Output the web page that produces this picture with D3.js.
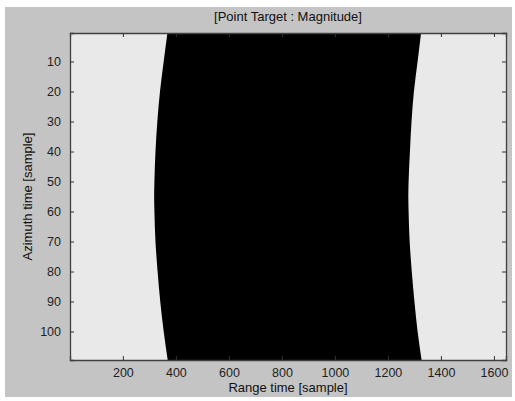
<!DOCTYPE html>
<html>
<head>
<meta charset="utf-8">
<script src="https://cdn.jsdelivr.net/npm/d3@7"></script>
<style>
	body { margin: 0; background: #ffffff; }
	#graphicContainer { width: 515px; height: 401px; }
	text { font-family: Arial, "Liberation Sans", sans-serif; }
</style>
</head>
<body>
<div id="graphicContainer"></div>
<script>

// azimuth rows sampled, and range sample where the black band starts / ends
var rows = [1, 10, 20, 30, 40, 50, 55, 60, 70, 80, 90, 100, 109]
var leftEdge = [368, 354, 340, 330, 323, 319, 318, 319, 323, 331, 341, 354, 369]
var rightEdge = [1325, 1312, 1298, 1289, 1283, 1278, 1277, 1278, 1282, 1290, 1300, 1312, 1327]

var xTicks = [200, 400, 600, 800, 1000, 1200, 1400, 1600]
var yTicks = [10, 20, 30, 40, 50, 60, 70, 80, 90, 100]

var titleText = "[Point Target : Magnitude]"
var xLabel = "Range time [sample]"
var yLabel = "Azimuth time [sample]"

function init() {

	var width = 515
	var height = 401
	var margin = {top: 33, right: 9, bottom: 41, left: 70}

	var svg = d3.select("#graphicContainer").append("svg")
				.attr("width", width)
				.attr("height", height)

	// figure background
	svg.append("rect")
		.attr("x", 5).attr("y", 7)
		.attr("width", 507).attr("height", 390)
		.attr("fill", "#c4c4c4")

	var x = d3.scaleLinear()
		.domain([0.5, 1645.5])
		.range([margin.left, width - margin.right])

	var y = d3.scaleLinear()
		.domain([0.5, 109.5])
		.range([margin.top, height - margin.bottom])

	var plot = svg.append("g")

	plot.append("rect")
		.attr("x", x.range()[0]).attr("y", y.range()[0])
		.attr("width", x.range()[1] - x.range()[0])
		.attr("height", y.range()[1] - y.range()[0])
		.attr("fill", "#e9e9e9")

	var band = rows.map(function(r, i) {
		return {row: r, l: leftEdge[i], r: rightEdge[i]}
	})
	// stretch first/last row to the axes edge
	band[0] = Object.assign({}, band[0], {row: 0.5})
	band[band.length - 1] = Object.assign({}, band[band.length - 1], {row: 109.5})

	var area = d3.area()
		.y(d => y(d.row))
		.x0(d => x(d.l))
		.x1(d => x(d.r))
		.curve(d3.curveMonotoneY)

	plot.append("path")
		.datum(band)
		.attr("d", area)
		.attr("fill", "#000000")

	var tickColor = "#333333"

	var xAxis = svg.append("g")
		.attr("transform", "translate(0," + y.range()[1] + ")")
		.call(d3.axisBottom(x).tickValues(xTicks).tickSize(-4).tickPadding(8).tickFormat(d3.format("d")))
	var xTop = svg.append("g")
		.attr("transform", "translate(0," + y.range()[0] + ")")
		.call(d3.axisTop(x).tickValues(xTicks).tickSize(-4).tickFormat(""))
	var yAxis = svg.append("g")
		.attr("transform", "translate(" + x.range()[0] + ",0)")
		.call(d3.axisLeft(y).tickValues(yTicks).tickSize(-4).tickPadding(9).tickFormat(d3.format("d")))
	var yRight = svg.append("g")
		.attr("transform", "translate(" + x.range()[1] + ",0)")
		.call(d3.axisRight(y).tickValues(yTicks).tickSize(-4).tickFormat(""))

	;[xAxis, xTop, yAxis, yRight].forEach(function(a) {
		a.selectAll(".domain").attr("stroke", "#404040").attr("stroke-width", 1.3)
		a.selectAll(".tick line").attr("stroke", tickColor)
		a.selectAll(".tick text")
			.attr("fill", "#1e1e1e")
			.attr("font-size", "12.5px")
			.attr("font-family", "Arial, 'Liberation Sans', sans-serif")
	})

	svg.append("text")
		.attr("x", (x.range()[0] + x.range()[1]) / 2)
		.attr("y", 21)
		.attr("text-anchor", "middle")
		.attr("font-size", "13px")
		.attr("fill", "#111111")
		.text(titleText)

	svg.append("text")
		.attr("x", (x.range()[0] + x.range()[1]) / 2)
		.attr("y", 392)
		.attr("text-anchor", "middle")
		.attr("font-size", "13px")
		.attr("fill", "#111111")
		.text(xLabel)

	svg.append("text")
		.attr("transform", "translate(32," + ((y.range()[0] + y.range()[1]) / 2) + ") rotate(-90)")
		.attr("text-anchor", "middle")
		.attr("font-size", "13px")
		.attr("fill", "#111111")
		.text(yLabel)

}

init()

</script>
</body>
</html>
